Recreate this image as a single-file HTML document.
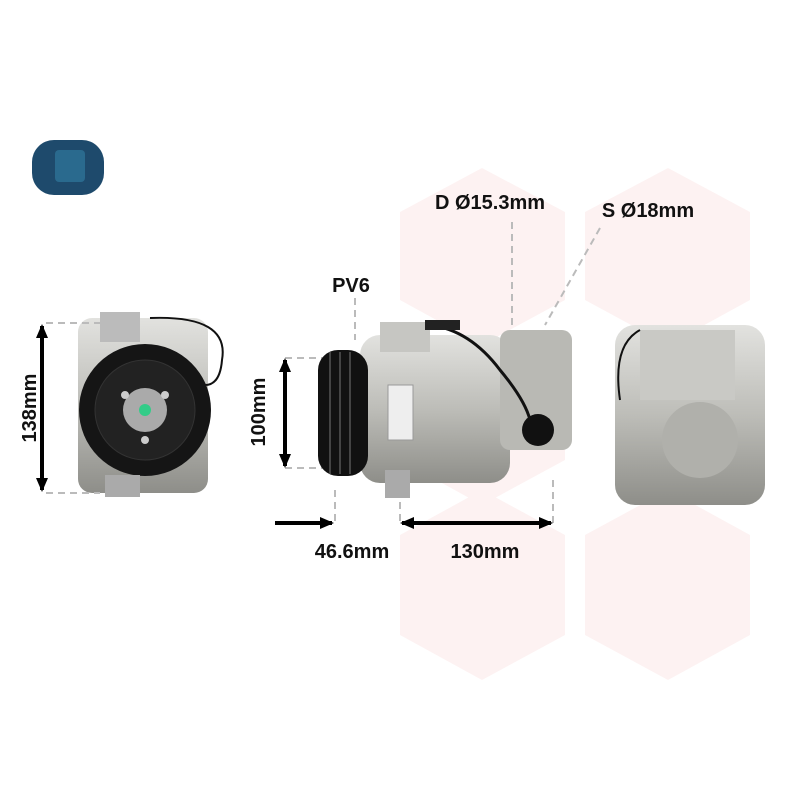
<!DOCTYPE html>
<html><head><meta charset="utf-8"><style>
html,body{margin:0;padding:0;background:#fff;}
svg{display:block}
text{font-family:"Liberation Sans",sans-serif;font-weight:bold;fill:#111;}
</style></head><body>
<svg width="800" height="800" viewBox="0 0 800 800" xmlns="http://www.w3.org/2000/svg">
<defs>
<marker id="ah" markerWidth="14" markerHeight="14" refX="12" refY="7" orient="auto-start-reverse" markerUnits="userSpaceOnUse">
<path d="M0,1 L14,7 L0,13 z" fill="#000"/></marker>
<linearGradient id="g1" x1="0" x2="0" y1="0" y2="1"><stop offset="0" stop-color="#e2e2df"/><stop offset="0.5" stop-color="#bdbdb8"/><stop offset="1" stop-color="#8e8e89"/></linearGradient>
</defs>
<g fill="#fdf2f2">
<polygon points="482,168 565,212 565,300 482,345 400,300 400,212"/>
<polygon points="668,168 750,212 750,300 668,345 585,300 585,212"/>
<polygon points="482,330 565,372 565,460 482,505 400,460 400,372"/>
<polygon points="482,490 565,535 565,635 482,680 400,635 400,535"/>
<polygon points="668,490 750,535 750,635 668,680 585,635 585,535"/>
</g>
<rect x="32" y="140" width="72" height="55" rx="22" fill="#1e4a6c"/>
<rect x="55" y="150" width="30" height="32" rx="4" fill="#2a6a8e"/>
<rect x="78" y="318" width="130" height="175" rx="14" fill="url(#g1)"/>
<rect x="100" y="312" width="40" height="30" fill="#bbb"/>
<path d="M150,318 Q230,315 222,360 Q220,385 205,385" stroke="#111" stroke-width="2" fill="none"/>
<circle cx="145" cy="410" r="66" fill="#151515"/>
<circle cx="145" cy="410" r="50" fill="#222" stroke="#333"/>
<circle cx="145" cy="410" r="22" fill="#aaa"/>
<circle cx="145" cy="410" r="6" fill="#3c8"/>
<g fill="#ccc"><circle cx="125" cy="395" r="4"/><circle cx="165" cy="395" r="4"/><circle cx="145" cy="440" r="4"/></g>
<rect x="105" y="475" width="35" height="22" fill="#aaa"/>
<g stroke="#bbb" stroke-width="2" stroke-dasharray="7,5" fill="none">
<line x1="46" y1="323" x2="100" y2="323"/><line x1="46" y1="493" x2="100" y2="493"/>
<line x1="285" y1="358" x2="330" y2="358"/><line x1="285" y1="468" x2="330" y2="468"/>
<line x1="355" y1="298" x2="355" y2="340"/>
<line x1="335" y1="490" x2="335" y2="525"/><line x1="400" y1="490" x2="400" y2="525"/><line x1="553" y1="480" x2="553" y2="525"/>
<line x1="512" y1="222" x2="512" y2="330"/><line x1="600" y1="228" x2="545" y2="325"/>
</g>
<g stroke="#000" stroke-width="4" fill="none">
<line x1="42" y1="326" x2="42" y2="490" marker-start="url(#ah)" marker-end="url(#ah)"/>
<line x1="285" y1="360" x2="285" y2="466" marker-start="url(#ah)" marker-end="url(#ah)"/>
<line x1="275" y1="523" x2="332" y2="523" marker-end="url(#ah)"/>
<line x1="402" y1="523" x2="551" y2="523" marker-start="url(#ah)" marker-end="url(#ah)"/>
</g>
<rect x="360" y="335" width="150" height="148" rx="20" fill="url(#g1)"/>
<rect x="380" y="322" width="50" height="30" fill="#c6c6c2"/>
<rect x="500" y="330" width="72" height="120" rx="10" fill="#b9b9b4"/>
<rect x="385" y="470" width="25" height="28" fill="#aaa"/>
<rect x="388" y="385" width="25" height="55" fill="#eee" stroke="#999"/>
<rect x="318" y="350" width="50" height="126" rx="20" fill="#111"/>
<g stroke="#444" stroke-width="2"><line x1="330" y1="352" x2="330" y2="474"/><line x1="340" y1="352" x2="340" y2="474"/><line x1="350" y1="352" x2="350" y2="474"/></g>
<path d="M430,325 Q470,330 500,370 Q525,400 530,420" stroke="#111" stroke-width="3" fill="none"/>
<rect x="425" y="320" width="35" height="10" fill="#222"/>
<circle cx="538" cy="430" r="16" fill="#111"/>
<rect x="615" y="325" width="150" height="180" rx="20" fill="url(#g1)"/>
<rect x="640" y="330" width="95" height="70" fill="#c9c9c5"/>
<circle cx="700" cy="440" r="38" fill="#b0b0ab"/>
<path d="M640,330 Q612,345 620,400" stroke="#111" stroke-width="2" fill="none"/>
<text x="490" y="209" font-size="20" text-anchor="middle">D Ø15.3mm</text>
<text x="648" y="217" font-size="20" text-anchor="middle">S Ø18mm</text>
<text x="351" y="292" font-size="20" text-anchor="middle">PV6</text>
<text x="352" y="558" font-size="20" text-anchor="middle">46.6mm</text>
<text x="485" y="558" font-size="20" text-anchor="middle">130mm</text>
<text transform="translate(36,408) rotate(-90)" font-size="20" text-anchor="middle">138mm</text>
<text transform="translate(265,412) rotate(-90)" font-size="20" text-anchor="middle">100mm</text>
</svg>
</body></html>
